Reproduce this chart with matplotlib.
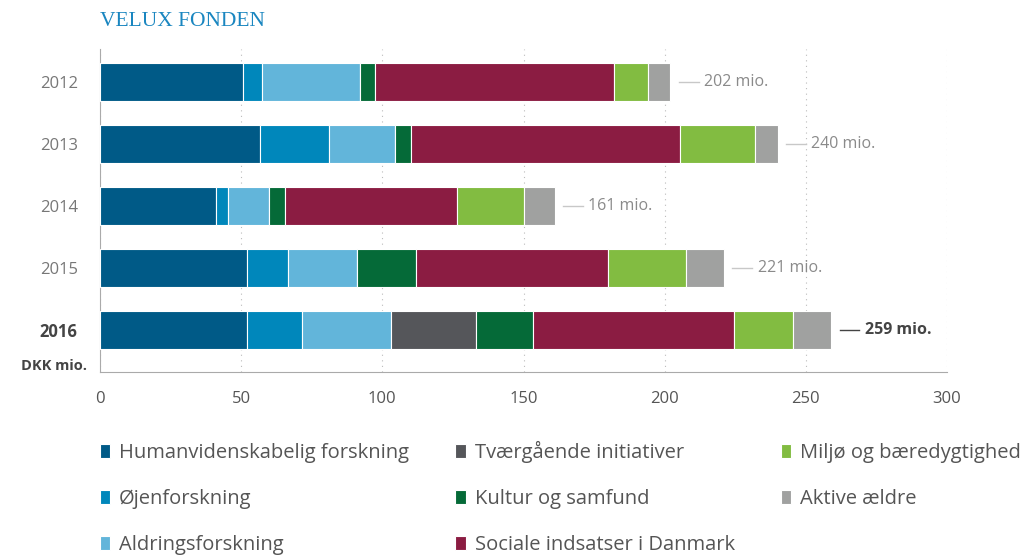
import matplotlib.pyplot as plt
import matplotlib

matplotlib.rcParams["font.family"] = ["Open Sans", "DejaVu Sans"]

# data (DKK mio.)
years = ["2012", "2013", "2014", "2015", "2016"]
categories = ["Humanvidenskabelig forskning", "Øjenforskning", "Aldringsforskning",
              "Tværgående initiativer", "Kultur og samfund", "Sociale indsatser i Danmark",
              "Miljø og bæredygtighed", "Aktive ældre"]
human = [50.5, 56.5, 41, 52, 52]
ojen = [7, 24.5, 4.5, 14.5, 19.5]
aldring = [34.5, 23.5, 14.5, 24.5, 31.5]
tvaer = [0, 0, 0, 0, 30]
kultur = [5.5, 5.5, 5.5, 21, 20.5]
sociale = [84.5, 95.5, 61, 68, 71]
miljo = [12, 26.5, 23.5, 27.5, 21]
aktive = [8, 8, 11, 13.5, 13.5]
totals = [202, 240, 161, 221, 259]

colors = ["#005a87", "#0087bb", "#62b5da", "#55565a", "#056a38", "#8b1c42", "#82bc41", "#a0a1a0"]
series = [human, ojen, aldring, tvaer, kultur, sociale, miljo, aktive]

fig = plt.figure(figsize=(10.3, 5.56), dpi=100)
ax = fig.add_axes([100 / 1030, 1 - 372 / 556, 847 / 1030, 323 / 556])

y = range(len(years))
left = [0] * len(years)
for vals, col, name in zip(series, colors, categories):
    ax.barh(y, vals, left=left, height=0.61, color=col, edgecolor="white",
            linewidth=0.8, label=name, zorder=3)
    left = [a + b for a, b in zip(left, vals)]

# total labels
for i, t in enumerate(totals):
    last = i == len(totals) - 1
    c = "#444444" if last else "#8a8a8a"
    lc = "#444444" if last else "#c8c8c8"
    ax.plot([t + 3, t + 10], [i, i], color=lc, lw=1, zorder=3)
    ax.text(t + 12, i, f"{t} mio.", va="center", ha="left", fontsize=11.5,
            color=c, fontweight="bold" if last else "normal")

ax.set_xlim(0, 300)
ax.set_ylim(4.68, -0.53)
ax.set_xticks(range(0, 301, 50))
ax.set_yticks(list(y))
ax.set_yticklabels(years)
for lab in ax.get_yticklabels():
    lab.set_color("#777777")
ax.get_yticklabels()[-1].set_fontweight("bold")
ax.get_yticklabels()[-1].set_color("#444444")
ax.tick_params(axis="y", length=0, labelsize=12, pad=16)
ax.tick_params(axis="x", length=0, labelsize=12, labelcolor="#555555", pad=14)

ax.grid(axis="x", linestyle=(0, (1, 4)), color="#bbbbbb", lw=0.8, zorder=0)
for s in ["top", "right"]:
    ax.spines[s].set_visible(False)
ax.spines["left"].set_color("#aaaaaa")
ax.spines["bottom"].set_color("#aaaaaa")

fig.text(87 / 1030, 1 - 366 / 556, "DKK mio.", ha="right", va="center",
         fontsize=10.5, fontweight="bold", color="#444444")

fig.text(100 / 1030, 1 - 21 / 556, "VELUX FONDEN", ha="left", va="center",
         fontsize=15.5, color="#1a86c0", family="Liberation Serif")

h, l = ax.get_legend_handles_labels()
fig.legend(h, l, ncol=3, loc="upper left", bbox_to_anchor=(100 / 1030, 1 - 441 / 556),
           frameon=False, fontsize=14.5, handlelength=0.5, handleheight=0.7,
           handletextpad=0.45, columnspacing=2.3, labelspacing=1.3,
           borderpad=0, borderaxespad=0, labelcolor="#555555")

fig.savefig("out.png", dpi=100)
